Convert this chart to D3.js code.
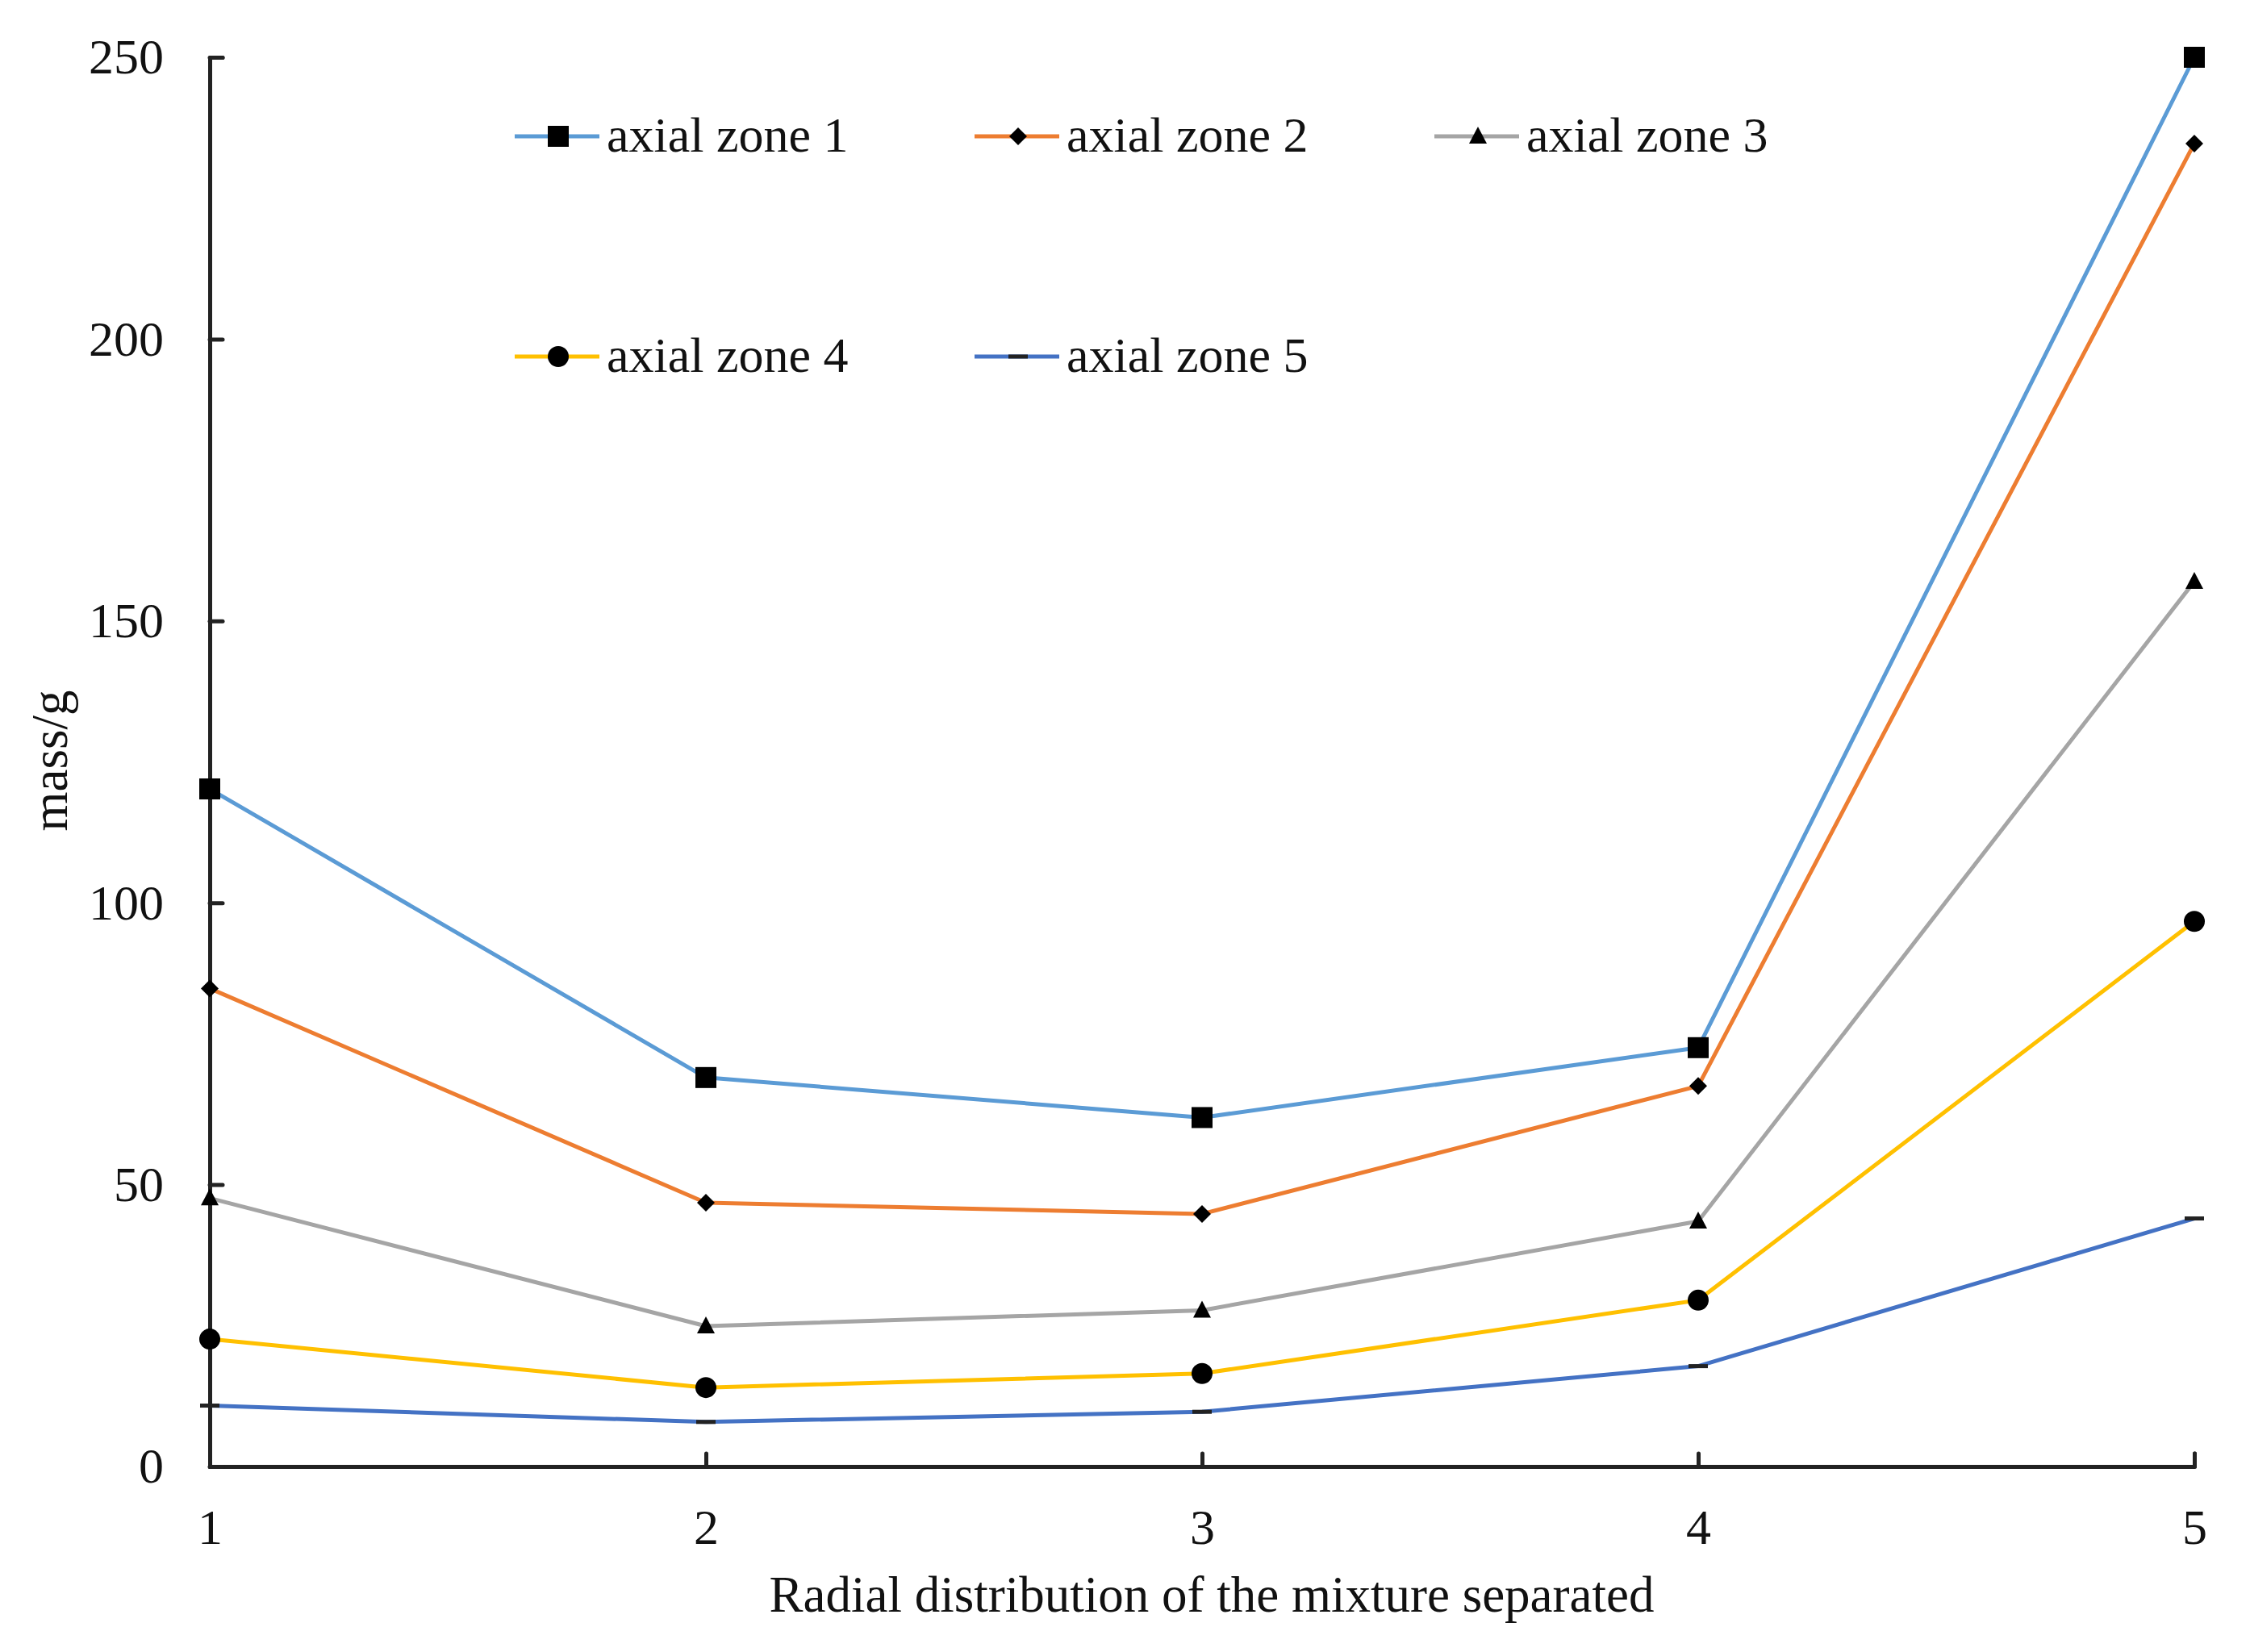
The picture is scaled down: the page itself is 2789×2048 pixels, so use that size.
<!DOCTYPE html>
<html>
<head>
<meta charset="utf-8">
<script src="https://cdn.jsdelivr.net/npm/d3@7"></script>
<style>
    html, body { margin: 0; padding: 0; background: #fff; }
    svg text { font-family: "Liberation Serif", "Times New Roman", serif; fill: #111; }
</style>
</head>
<body>
<svg id="chart" width="2789" height="2048"></svg>
<script>
// values
const categories = [ 1, 2, 3, 4, 5 ];
const zone1 = [ 120.2, 69.0, 61.9, 74.3, 250.0 ];
const zone2 = [ 84.8, 46.8, 44.8, 67.5, 234.7 ];
const zone3 = [ 47.6, 24.9, 27.7, 43.5, 157.0 ];
const zone4 = [ 22.6, 14.0, 16.5, 29.5, 96.7 ];
const zone5 = [ 10.8, 7.9, 9.7, 17.8, 44.0 ];
const seriesNames = [ 'axial zone 1', 'axial zone 2', 'axial zone 3', 'axial zone 4', 'axial zone 5' ];
const yTicks = [ 0, 50, 100, 150, 200, 250 ];

const colors = [ '#5B9BD5', '#ED7D31', '#A5A5A5', '#FFC000', '#4472C4' ];
const markers = [ 'square', 'diamond', 'triangle', 'circle', 'dash' ];

const margin = { left: 260, top: 71, right: 69, bottom: 230 };
const width = 2789, height = 2048;
const innerWidth = width - margin.left - margin.right;
const innerHeight = height - margin.top - margin.bottom;

const svg = d3.select( '#chart' );
const g = svg.append( 'g' )
    .attr( 'transform', `translate(${margin.left},${margin.top})` );

const xScale = d3.scaleLinear().domain( [ 1, 5 ] ).range( [ 0, innerWidth ] );
const yScale = d3.scaleLinear().domain( [ 0, 250 ] ).range( [ innerHeight, 0 ] );

const series = [ zone1, zone2, zone3, zone4, zone5 ].map( ( values, i ) => ( {
    name: seriesNames[ i ],
    color: colors[ i ],
    marker: markers[ i ],
    points: values.map( ( v, j ) => ( { x: categories[ j ], y: v } ) )
} ) );

// axes, ticks pointing inside like the original
const xAxis = d3.axisBottom( xScale )
    .tickValues( categories )
    .tickFormat( d3.format( 'd' ) )
    .tickSizeInner( -16 )
    .tickSizeOuter( -16 )
    .tickPadding( 52 );

const yAxis = d3.axisLeft( yScale )
    .tickValues( yTicks )
    .tickSizeInner( -16 )
    .tickSizeOuter( -16 )
    .tickPadding( 57 );

const styleAxis = sel => {
    sel.selectAll( 'path, line' )
        .attr( 'stroke', '#222' )
        .attr( 'stroke-width', 5 )
        .attr( 'stroke-linejoin', 'round' )
        .attr( 'stroke-linecap', 'round' );
    sel.selectAll( 'text' )
        .attr( 'font-size', 62 )
        .attr( 'fill', '#111' )
        .style( 'font-family', '"Liberation Serif", "Times New Roman", serif' );
    sel.attr( 'font-family', null ).attr( 'font-size', null );
};

g.append( 'g' )
    .attr( 'class', 'x-axis' )
    .attr( 'transform', `translate(0,${innerHeight})` )
    .call( xAxis )
    .call( styleAxis );

g.append( 'g' )
    .attr( 'class', 'y-axis' )
    .call( yAxis )
    .call( styleAxis );

// lines
const line = d3.line()
    .x( d => xScale( d.x ) )
    .y( d => yScale( d.y ) );

const drawGroup = g.append( 'g' ).attr( 'class', 'draw' );

drawGroup.selectAll( 'path.series' ).data( series )
    .enter().append( 'path' )
    .attr( 'class', 'series' )
    .attr( 'fill', 'none' )
    .attr( 'stroke', d => d.color )
    .attr( 'stroke-width', 5 )
    .attr( 'stroke-linejoin', 'round' )
    .attr( 'd', d => line( d.points ) );

// markers
function drawMarker( sel, type ) {
    if ( type === 'square' ) {
        sel.append( 'rect' ).attr( 'x', -13 ).attr( 'y', -13 ).attr( 'width', 26 ).attr( 'height', 26 ).attr( 'fill', '#000' );
    } else if ( type === 'diamond' ) {
        sel.append( 'path' ).attr( 'd', 'M0,-11L11,0L0,11L-11,0Z' ).attr( 'fill', '#000' );
    } else if ( type === 'triangle' ) {
        sel.append( 'path' ).attr( 'd', 'M0,-12L11,9L-11,9Z' ).attr( 'fill', '#000' );
    } else if ( type === 'circle' ) {
        sel.append( 'circle' ).attr( 'r', 13 ).attr( 'fill', '#000' );
    } else if ( type === 'dash' ) {
        sel.append( 'rect' ).attr( 'x', -12 ).attr( 'y', -2.5 ).attr( 'width', 24 ).attr( 'height', 5 ).attr( 'fill', '#222' );
    }
}

series.forEach( s => {
    drawGroup.selectAll( null ).data( s.points )
        .enter().append( 'g' )
        .attr( 'transform', d => `translate(${xScale( d.x )},${yScale( d.y )})` )
        .each( function () { drawMarker( d3.select( this ), s.marker ); } );
} );

// axis labels
svg.append( 'text' )
    .attr( 'x', 1502 )
    .attr( 'y', 1998 )
    .attr( 'text-anchor', 'middle' )
    .attr( 'font-size', 63 )
    .text( 'Radial distribution of the mixture separated' );

svg.append( 'text' )
    .attr( 'transform', 'translate(83,943) rotate(-90)' )
    .attr( 'text-anchor', 'middle' )
    .attr( 'font-size', 63 )
    .text( 'mass/g' );

// legend: 3 columns, 2 rows
const legendX = [ 638, 1208, 1778 ];
const legendY = [ 169, 442 ];
const legend = svg.append( 'g' ).attr( 'class', 'legend' );

series.forEach( ( s, i ) => {
    const item = legend.append( 'g' )
        .attr( 'transform', `translate(${legendX[ i % 3 ]},${legendY[ Math.floor( i / 3 ) ]})` );
    item.append( 'line' )
        .attr( 'x1', 0 ).attr( 'x2', 105 )
        .attr( 'y1', 0 ).attr( 'y2', 0 )
        .attr( 'stroke', s.color )
        .attr( 'stroke-width', 5 );
    drawMarker( item.append( 'g' ).attr( 'transform', 'translate(54,0)' ), s.marker );
    item.append( 'text' )
        .attr( 'x', 114 )
        .attr( 'y', 19 )
        .attr( 'font-size', 62 )
        .text( s.name );
} );
</script>
</body>
</html>
